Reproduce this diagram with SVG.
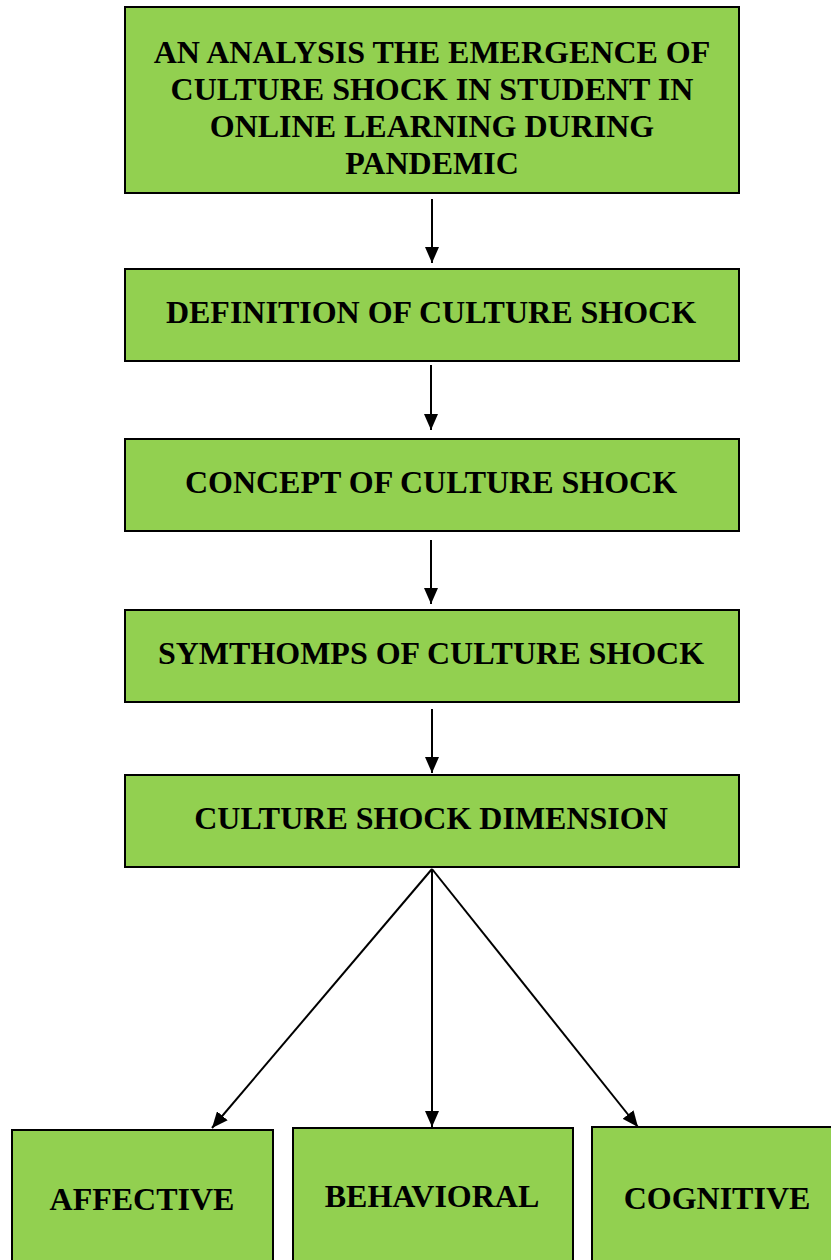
<svg xmlns="http://www.w3.org/2000/svg" width="831" height="1260" viewBox="0 0 831 1260">
<style>
.box{fill:#92D050;stroke:#000;stroke-width:2}
.t{font-family:"Liberation Serif","Times New Roman",serif;font-weight:bold;font-size:32px;fill:#000;text-anchor:middle}
.c{stroke:#000;stroke-width:2;fill:none;marker-end:url(#ah)}
</style>
<defs>
<marker id="ah" markerWidth="16" markerHeight="14" refX="16" refY="7" orient="auto" markerUnits="userSpaceOnUse" viewBox="0 0 16 14">
<path d="M0,0 L16,7 L0,14 z" fill="#000"/>
</marker>
</defs>
<g id="n1"><rect class="box" x="125" y="7" width="614" height="186"/>
<text class="t" x="432" y="63">AN ANALYSIS THE EMERGENCE OF</text>
<text class="t" x="432" y="100">CULTURE SHOCK IN STUDENT IN</text>
<text class="t" x="432" y="137">ONLINE LEARNING DURING</text>
<text class="t" x="432" y="174">PANDEMIC</text></g>
<g id="n2"><rect class="box" x="125" y="269" width="614" height="92"/>
<text class="t" x="431" y="323">DEFINITION OF CULTURE SHOCK</text></g>
<g id="n3"><rect class="box" x="125" y="439" width="614" height="92"/>
<text class="t" x="431" y="493">CONCEPT OF CULTURE SHOCK</text></g>
<g id="n4"><rect class="box" x="125" y="610" width="614" height="92"/>
<text class="t" x="431" y="664">SYMTHOMPS OF CULTURE SHOCK</text></g>
<g id="n5"><rect class="box" x="125" y="775" width="614" height="92"/>
<text class="t" x="431" y="829">CULTURE SHOCK DIMENSION</text></g>
<g id="n6"><rect class="box" x="12" y="1130" width="261" height="140"/>
<text class="t" x="142" y="1210">AFFECTIVE</text></g>
<g id="n7"><rect class="box" x="293" y="1128" width="280" height="140"/>
<text class="t" x="432" y="1207">BEHAVIORAL</text></g>
<g id="n8"><rect class="box" x="592" y="1127" width="250" height="140"/>
<text class="t" x="717" y="1209">COGNITIVE</text></g>
<g id="connectors">
<line class="c" x1="432" y1="199" x2="432" y2="263"/>
<line class="c" x1="431" y1="365" x2="431" y2="430"/>
<line class="c" x1="431" y1="540" x2="431" y2="604"/>
<line class="c" x1="432" y1="709" x2="432" y2="773"/>
<line class="c" x1="432" y1="869" x2="212" y2="1128"/>
<line class="c" x1="432" y1="869" x2="432" y2="1127"/>
<line class="c" x1="432" y1="869" x2="638" y2="1127"/>
</g>
</svg>
